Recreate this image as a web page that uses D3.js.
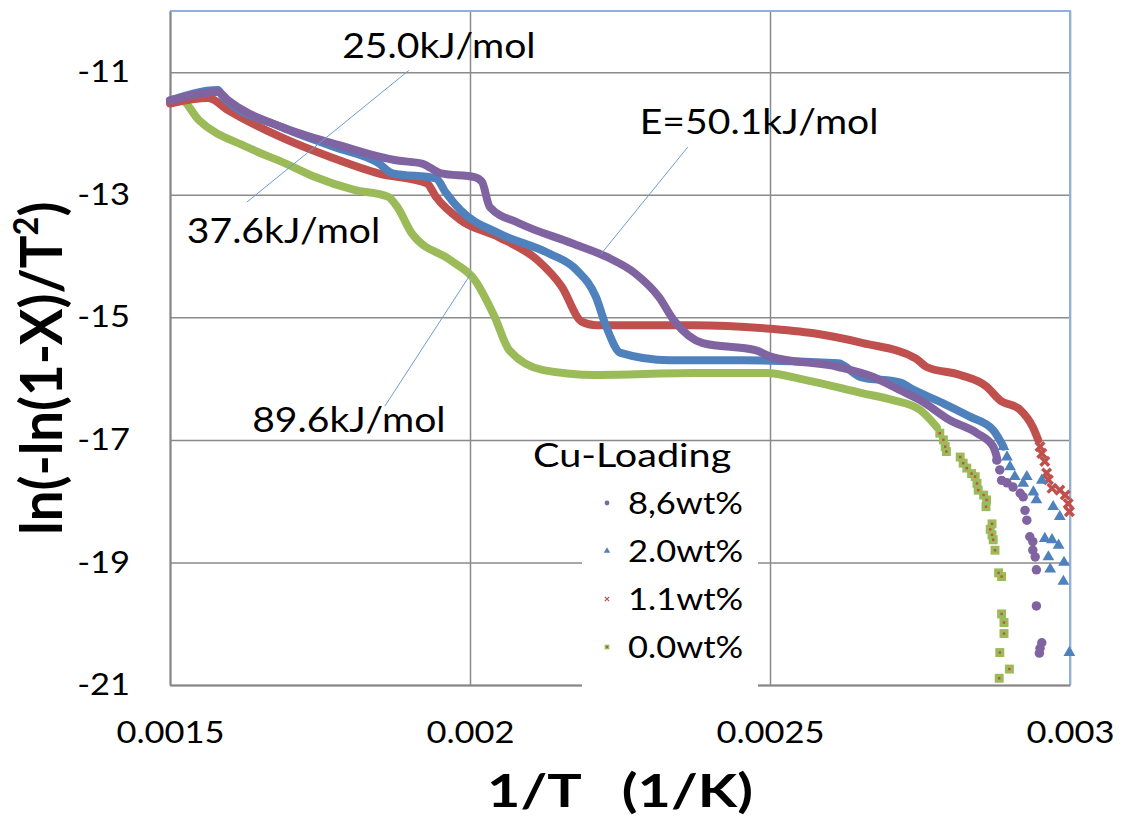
<!DOCTYPE html>
<html>
<head>
<meta charset="utf-8">
<script src="https://cdn.jsdelivr.net/npm/d3@7"></script>
<style>
  body { margin: 0; background: #fff; }
  text { font-family: Lato, "Open Sans", sans-serif; fill: #000; }
</style>
</head>
<body>
<div id="chart"></div>
<script>
// Series: dense part drawn as a thick band, sparse tail as markers
const seriesNames = ["8,6wt%", "2.0wt%", "1.1wt%", "0.0wt%"];
const seriesColors = ["#8064A2", "#4F81BD", "#C0504D", "#9BBB59"];

// 8,6wt%
const xPurple = [0.0015, 0.00158, 0.001597, 0.001685, 0.001782, 0.001879, 0.00192, 0.001952, 0.002008, 0.00202,
  0.002033, 0.002081, 0.00217, 0.002227, 0.002275, 0.002315, 0.00234, 0.002388, 0.002477, 0.002501,
  0.002614, 0.002671, 0.002717, 0.00275, 0.0028, 0.002845, 0.002872, 0.002878];
const yPurple = [-11.46, -11.32, -11.46, -11.89, -12.19, -12.44, -12.49, -12.65, -12.71, -12.79,
  -13.20, -13.46, -13.79, -14.01, -14.28, -14.67, -15.05, -15.42, -15.54, -15.64,
  -15.81, -15.97, -16.19, -16.35, -16.68, -16.89, -17.11, -17.28];
const xPurpleTail = [0.002878, 0.002883, 0.002886, 0.002895, 0.002905, 0.002917, 0.002922, 0.002925, 0.002928,
  0.002933, 0.002938, 0.002938, 0.002942, 0.002944, 0.002944, 0.002953, 0.00295, 0.002949];
const yPurpleTail = [-17.33, -17.49, -17.66, -17.70, -17.77, -17.87, -17.93, -18.15, -18.31,
  -18.58, -18.66, -18.80, -18.91, -19.12, -19.71, -20.31, -20.40, -20.48];

// 2.0wt%
const xBlue = [0.0015, 0.00158, 0.001588, 0.001685, 0.001774, 0.001847, 0.001871, 0.001943, 0.00196, 0.001984,
  0.002048, 0.00213, 0.002178, 0.00221, 0.002227, 0.002251, 0.002332, 0.002453, 0.002614, 0.00265,
  0.002719, 0.002733, 0.002788, 0.002833, 0.002872, 0.002889];
const yBlue = [-11.46, -11.29, -11.40, -11.89, -12.22, -12.48, -12.65, -12.73, -12.97, -13.25,
  -13.63, -13.95, -14.23, -14.67, -15.15, -15.58, -15.70, -15.70, -15.75, -15.97,
  -16.07, -16.15, -16.40, -16.62, -16.84, -17.11];
const xBlueTail = [0.002889, 0.002895, 0.0029, 0.002908, 0.002928, 0.002922, 0.002939, 0.002953, 0.002944, 0.002972,
  0.002983, 0.002958, 0.00297, 0.002981, 0.002964, 0.002967, 0.00299, 0.002989, 0.002999];
const yBlueTail = [-17.11, -17.28, -17.44, -17.60, -17.60, -17.71, -17.85, -17.66, -17.98, -18.09,
  -18.25, -18.61, -18.63, -18.72, -18.91, -19.11, -19.00, -19.31, -20.47];

// 1.1wt%
const xRed = [0.0015, 0.001564, 0.001597, 0.001685, 0.001766, 0.001847, 0.001928, 0.001943, 0.001984, 0.002048,
  0.002113, 0.002153, 0.002186, 0.00221, 0.002372, 0.002493, 0.002573, 0.002655, 0.002743, 0.002761,
  0.002817, 0.002861, 0.002883, 0.002917, 0.002938, 0.002947];
const yRed = [-11.51, -11.42, -11.62, -12.06, -12.38, -12.65, -12.81, -13.03, -13.41, -13.69,
  -14.07, -14.50, -15.07, -15.13, -15.13, -15.18, -15.26, -15.42, -15.67, -15.81,
  -15.94, -16.13, -16.35, -16.51, -16.79, -17.00];
const xRedTail = [0.00295, 0.002953, 0.002958, 0.002961, 0.002964, 0.00297, 0.002983, 0.002992, 0.002997, 0.002999];
const yRedTail = [-17.11, -17.22, -17.35, -17.54, -17.65, -17.79, -17.82, -17.90, -18.04, -18.17];

// 0.0wt%
const xGreen = [0.0015, 0.001516, 0.001548, 0.001628, 0.001693, 0.001742, 0.001807, 0.001863, 0.001879, 0.001903,
  0.001968, 0.002008, 0.002041, 0.002065, 0.002122, 0.00221, 0.002372, 0.002493, 0.002558, 0.002655,
  0.002705, 0.00275, 0.002778];
const yGreen = [-11.46, -11.43, -11.78, -12.22, -12.49, -12.71, -12.92, -13.03, -13.20, -13.63,
  -14.07, -14.39, -14.99, -15.53, -15.86, -15.94, -15.91, -15.91, -16.02, -16.24,
  -16.35, -16.51, -16.79];
const xGreenTail = [0.002783, 0.002789, 0.002792, 0.002794, 0.002817, 0.002822, 0.002828, 0.002836, 0.002842, 0.002845,
  0.002847, 0.002856, 0.002861, 0.00286, 0.00287, 0.002867, 0.00287, 0.002872, 0.002875, 0.002881,
  0.002886, 0.002886, 0.00289, 0.00289, 0.002883, 0.002899, 0.002882];
const yGreenTail = [-16.89, -17.00, -17.11, -17.19, -17.28, -17.38, -17.46, -17.55, -17.60, -17.71,
  -17.82, -17.90, -17.98, -18.09, -18.37, -18.46, -18.55, -18.63, -18.80, -19.17,
  -19.23, -19.84, -19.98, -20.16, -20.47, -20.74, -20.89];

// axis ticks
const xTicks = [0.0015, 0.002, 0.0025, 0.003];
const yTicks = [-11, -13, -15, -17, -19, -21];

// activation energy notes: text anchor and leader line, in data units
const noteTexts = ["25.0kJ/mol", "E=50.1kJ/mol", "37.6kJ/mol", "89.6kJ/mol"];
const noteX = [0.001787, 0.002283, 0.001528, 0.001637];
const noteY = [-10.77, -12.0, -13.79, -16.87];
const leaderX1 = [0.001898, 0.002363, 0.002002];
const leaderY1 = [-10.97, -12.22, -14.28];
const leaderX2 = [0.001628, 0.002218, 0.001858];
const leaderY2 = [-13.12, -13.97, -16.45];

const W = 1121, H = 820;
const margin = { top: 11, right: 51, bottom: 135, left: 170 };
const width = W - margin.left - margin.right;
const height = H - margin.top - margin.bottom;
const SX = 1.15; // the original text is a bit wider than Lato

const svg = d3.select("#chart").append("svg")
    .attr("width", W)
    .attr("height", H);

const g = svg.append("g")
    .attr("transform", "translate(" + margin.left + "," + margin.top + ")");

const x = d3.scaleLinear().domain([0.0015, 0.003]).range([0, width]);
const y = d3.scaleLinear().domain([-21, -10]).range([height, 0]);

// gridlines
g.append("g")
    .call(d3.axisLeft(y).tickValues(yTicks).tickSize(-width).tickFormat(""))
    .call(s => s.select(".domain").remove())
    .call(s => s.selectAll("line").attr("stroke", "#8a8a8a").attr("stroke-width", 1.5));
g.append("g")
    .attr("transform", "translate(0," + height + ")")
    .call(d3.axisBottom(x).tickValues(xTicks).tickSize(-height).tickFormat(""))
    .call(s => s.select(".domain").remove())
    .call(s => s.selectAll("line").attr("stroke", "#8a8a8a").attr("stroke-width", 1.5));

// top / right frame
g.append("path")
    .attr("d", "M0,0H" + width + "V" + height)
    .attr("fill", "none")
    .attr("stroke", "#8eb0dc")
    .attr("stroke-width", 2);

// axes with labels
const yAxis = g.append("g")
    .call(d3.axisLeft(y).tickValues(yTicks).tickSize(0).tickPadding(0).tickFormat(d => String(d)));
yAxis.select(".domain").attr("stroke", "#868686").attr("stroke-width", 2);
yAxis.selectAll("text")
    .attr("font-size", 30)
    .attr("font-family", "Lato")
    .attr("x", -40 / SX)
    .attr("transform", "scale(" + SX + ",1)");

const xAxis = g.append("g")
    .attr("transform", "translate(0," + height + ")")
    .call(d3.axisBottom(x).tickValues(xTicks).tickSize(0).tickPadding(37).tickFormat(d => String(d)));
xAxis.select(".domain").attr("stroke", "#868686").attr("stroke-width", 2);
xAxis.selectAll("text")
    .attr("font-size", 30)
    .attr("font-family", "Lato")
    .attr("transform", "scale(" + SX + ",1)");

// series
const dense = [
    { xs: xGreen, ys: yGreen, color: seriesColors[3] },
    { xs: xRed, ys: yRed, color: seriesColors[2] },
    { xs: xBlue, ys: yBlue, color: seriesColors[1] },
    { xs: xPurple, ys: yPurple, color: seriesColors[0] }
];
const line = d3.line()
    .x(d => x(d[0]))
    .y(d => y(d[1]))
    .curve(d3.curveMonotoneX);

dense.forEach(s => {
    g.append("path")
        .datum(d3.zip(s.xs, s.ys))
        .attr("d", line)
        .attr("fill", "none")
        .attr("stroke", s.color)
        .attr("stroke-width", 8)
        .attr("stroke-linejoin", "round")
        .attr("stroke-linecap", "round");
});

// sparse tails
function drawMarkers(xs, ys, kind, color, size) {
    const pts = d3.zip(xs, ys);
    const sel = g.append("g").selectAll("path")
        .data(pts)
        .enter().append("path")
        .attr("transform", d => "translate(" + x(d[0]) + "," + y(d[1]) + ")");
    if (kind === "circle") {
        sel.attr("d", d3.symbol(d3.symbolCircle, size)).attr("fill", color);
    } else if (kind === "triangle") {
        sel.attr("d", d3.symbol(d3.symbolTriangle, size)).attr("fill", color);
    } else if (kind === "x") {
        sel.attr("d", d3.symbol(d3.symbolX, size)).attr("fill", "none")
            .attr("stroke", color).attr("stroke-width", 3.5);
    } else {
        sel.attr("d", d3.symbol(d3.symbolSquare, size)).attr("fill", color);
        g.append("g").selectAll("rect")
            .data(pts)
            .enter().append("rect")
            .attr("x", d => x(d[0]) - 1.2)
            .attr("y", d => y(d[1]) - 1.2)
            .attr("width", 2.4)
            .attr("height", 2.4)
            .attr("fill", "#C0504D");
    }
}
drawMarkers(xGreenTail, yGreenTail, "square", seriesColors[3], 80);
drawMarkers(xRedTail, yRedTail, "x", seriesColors[2], 50);
drawMarkers(xBlueTail, yBlueTail, "triangle", seriesColors[1], 60);
drawMarkers(xPurpleTail, yPurpleTail, "circle", seriesColors[0], 70);

// leader lines and notes
leaderX1.forEach((v, i) => {
    g.append("line")
        .attr("x1", x(v)).attr("y1", y(leaderY1[i]))
        .attr("x2", x(leaderX2[i])).attr("y2", y(leaderY2[i]))
        .attr("stroke", "#6f9bd1")
        .attr("stroke-width", 1);
});
noteTexts.forEach((t, i) => {
    g.append("text")
        .attr("transform", "translate(" + x(noteX[i]) + "," + y(noteY[i]) + ") scale(" + SX + ",1)")
        .attr("font-size", 34)
        .text(t);
});

// legend
const legend = g.append("g")
    .attr("class", "legend")
    .attr("transform", "translate(" + (582 - margin.left) + "," + (445 - margin.top) + ")");
legend.append("rect")
    .attr("y", 36)
    .attr("width", 176)
    .attr("height", 228)
    .attr("fill", "#fff");
legend.append("text")
    .attr("transform", "translate(-49,22) scale(1.2,1)")
    .attr("font-size", 33)
    .text("Cu-Loading");
const legendKinds = ["circle", "triangle", "x", "square"];
seriesNames.forEach((name, i) => {
    const cy = 58 + i * 48;
    const m = legend.append("path")
        .attr("transform", "translate(25," + cy + ")");
    if (legendKinds[i] === "x") {
        m.attr("d", d3.symbol(d3.symbolX, 14)).attr("fill", "none")
            .attr("stroke", seriesColors[i]).attr("stroke-width", 1.2);
    } else if (legendKinds[i] === "square") {
        m.attr("d", d3.symbol(d3.symbolSquare, 22)).attr("fill", seriesColors[i]);
        legend.append("rect").attr("x", 24).attr("y", cy - 1).attr("width", 2).attr("height", 2)
            .attr("fill", seriesColors[2]);
    } else {
        m.attr("d", d3.symbol(legendKinds[i] === "circle" ? d3.symbolCircle : d3.symbolTriangle, 18))
            .attr("fill", seriesColors[i]);
    }
    legend.append("text")
        .attr("transform", "translate(46," + (cy + 11) + ") scale(" + SX + ",1)")
        .attr("font-size", 30)
        .text(name);
});

// axis titles
const yTitle = svg.append("text")
    .attr("transform", "translate(62," + (margin.top + height * 0.53) + ") rotate(-90) scale(1.05,1.12)")
    .attr("text-anchor", "middle")
    .attr("font-size", 52)
    .attr("font-weight", "bold");
yTitle.append("tspan").text("ln(-ln(1-X)/T");
yTitle.append("tspan").attr("font-size", 31).attr("dy", -21).text("2");
yTitle.append("tspan").attr("dy", 21).text(")");

svg.append("text")
    .attr("transform", "translate(" + (margin.left + width * 0.5) + ",807) scale(1.25,1)")
    .attr("text-anchor", "middle")
    .attr("font-size", 46)
    .attr("font-weight", "bold")
    .style("white-space", "pre")
    .text("1/T   (1/K)");
</script>
</body>
</html>
